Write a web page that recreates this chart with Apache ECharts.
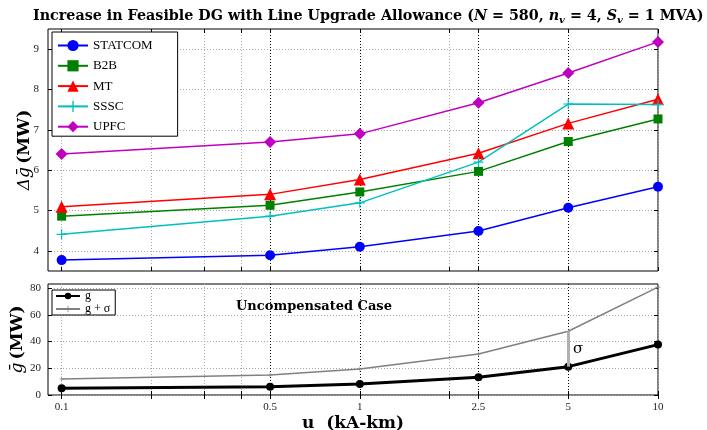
<!DOCTYPE html>
<html>
<head>
<meta charset="utf-8">
<script src="https://cdn.jsdelivr.net/npm/echarts@6/dist/echarts.min.js"></script>
<style>
html, body { margin: 0; padding: 0; background: #fff; }
#main { width: 707px; height: 430px; }
</style>
</head>
<body>
<div id="main"></div>
<script>
// line upgrade allowance u (kA-km)
var u = [0.1, 0.5, 1, 2.5, 5, 10];

// increase in feasible DG (MW), top panel
var statcom = [3.77, 3.89, 4.10, 4.49, 5.07, 5.59];
var b2b = [4.86, 5.13, 5.46, 5.97, 6.71, 7.27];
var mt = [5.09, 5.40, 5.77, 6.42, 7.16, 7.76];
var sssc = [4.41, 4.86, 5.19, 6.20, 7.64, 7.63];
var upfc = [6.40, 6.70, 6.90, 7.67, 8.41, 9.18];

// uncompensated case, bottom panel
var gMean = [5.0, 6.2, 8.2, 13.2, 21.2, 37.7];
var gSigma = [12.0, 15.0, 19.5, 30.7, 47.7, 80.7];

// ticks
var uTicks = [0.1, 0.2, 0.3, 0.4, 0.5, 1, 2, 2.5, 5, 10];
var uLabels = [0.1, 0.5, 1, 2.5, 5, 10];
var topTicks = [4, 5, 6, 7, 8, 9];
var botTicks = [0, 20, 40, 60, 80];

var serif = '"Liberation Serif", "DejaVu Serif", serif';
var wide = '"DejaVu Serif", serif';
var gray = '#aaaaaa';
// darker dotted lines at the labelled u values
var vGridColors = uTicks.map(function (v) {
    return (v === 0.5 || v === 1 || v === 2.5 || v === 5) ? '#000' : gray;
});
var plus = 'path://M-0.12,-1 L0.12,-1 L0.12,-0.12 L1,-0.12 L1,0.12 L0.12,0.12 L0.12,1 L-0.12,1 L-0.12,0.12 L-1,0.12 L-1,-0.12 L-0.12,-0.12 Z';

function pts(ys) {
    return u.map(function (x, i) { return [x, ys[i]]; });
}

function xAx(grid, pos, labels, split) {
    return {
        type: 'log', gridIndex: grid, position: pos, min: 0.09, max: 10,
        axisLine: { show: false },
        axisTick: { show: true, inside: true, length: 4, customValues: uTicks, lineStyle: { color: '#000' } },
        axisLabel: labels ? {
            show: true, customValues: uLabels, margin: 7,
            fontFamily: serif, fontSize: 11, color: '#222',
            formatter: function (v) { return String(+(+v).toFixed(2)); }
        } : { show: false },
        splitLine: { show: split, lineStyle: { type: [1, 2], color: vGridColors, width: 1 } },
        minorTick: { show: false }, minorSplitLine: { show: false }
    };
}

function yAx(grid, pos, min, max, ticks, split, margin) {
    return {
        type: 'value', gridIndex: grid, position: pos, min: min, max: max,
        axisLine: { show: false },
        axisTick: { show: true, inside: true, length: 4, customValues: ticks, lineStyle: { color: '#000' } },
        axisLabel: pos === 'left' ? {
            show: true, customValues: ticks, margin: margin,
            fontFamily: serif, fontSize: 11, color: '#222'
        } : { show: false },
        splitLine: { show: split, lineStyle: { type: [1, 2], color: gray, width: 1 } }
    };
}

var xAxes = [
    xAx(0, 'bottom', false, true),
    xAx(0, 'top', false, false),
    xAx(1, 'bottom', true, true),
    xAx(1, 'top', false, false)
];
xAxes[2].name = 'u  (kA-km)';
xAxes[2].nameLocation = 'middle';
xAxes[2].nameGap = 20;
xAxes[2].nameTextStyle = { fontFamily: wide, fontWeight: 'bold', fontSize: 17, color: '#000' };

var yAxes = [
    yAx(0, 'left', 3.5, 9.5, topTicks, true, 9),
    yAx(0, 'right', 3.5, 9.5, topTicks, false, 0),
    yAx(1, 'left', 0, 83, botTicks, true, 7),
    yAx(1, 'right', 0, 83, botTicks, false, 0)
];
var yNameRich = {
    i: { fontFamily: wide, fontStyle: 'italic', fontSize: 17, color: '#000' },
    b: { fontFamily: wide, fontWeight: 'bold', fontSize: 17, color: '#000' }
};
yAxes[0].name = '{i|Δḡ} {b|(MW)}';
yAxes[2].name = '{i|ḡ} {b|(MW)}';
yAxes[0].nameGap = 15;
yAxes[2].nameGap = 22;
[0, 2].forEach(function (k) {
    yAxes[k].nameLocation = 'middle';
    yAxes[k].nameRotate = 90;
    yAxes[k].nameMoveOverlap = false;
    yAxes[k].nameTextStyle = { rich: yNameRich };
});

function topLine(name, ys, color, symbol, size) {
    return {
        name: name, type: 'line', xAxisIndex: 0, yAxisIndex: 0,
        data: pts(ys), symbol: symbol, symbolSize: size,
        lineStyle: { color: color, width: 1.5 },
        itemStyle: { color: color }
    };
}

var option = {
    animation: false,
    backgroundColor: '#fff',
    title: {
        left: 28, top: 2,
        text: '{b|Increase in Feasible DG with Line Upgrade Allowance (}{i|N}{n| = 580, }{i|n}{s|v}{n| = 4, }{i|S}{s|v}{n| = 1 }{b|MVA)}',
        textStyle: {
            rich: {
                b: { fontFamily: wide, fontWeight: 'bold', fontSize: 14.3, color: '#000' },
                i: { fontFamily: wide, fontStyle: 'italic', fontSize: 14.3, color: '#000' },
                n: { fontFamily: wide, fontSize: 14.3, color: '#000' },
                s: { fontFamily: wide, fontStyle: 'italic', fontSize: 10, color: '#000', padding: [8, 0, 0, 0] }
            }
        }
    },
    grid: [
        { left: 48, right: 49, top: 29, height: 242, outerBoundsMode: 'none', show: true, borderColor: '#000', borderWidth: 1, backgroundColor: 'transparent' },
        { left: 48, right: 49, top: 284, height: 111, outerBoundsMode: 'none', show: true, borderColor: '#000', borderWidth: 1, backgroundColor: 'transparent' }
    ],
    legend: [
        {
            data: ['STATCOM', 'B2B', 'MT', 'SSSC', 'UPFC'],
            orient: 'vertical', left: 52, top: 32,
            padding: [7, 25, 3, 5], itemWidth: 30, itemHeight: 14, itemGap: 7.3,
            backgroundColor: '#fff', borderColor: '#000', borderWidth: 1, borderRadius: 0,
            textStyle: { fontFamily: serif, fontSize: 13, color: '#000' }
        },
        {
            data: ['g', 'g + σ'],
            orient: 'vertical', left: 52, top: 290,
            padding: [0, 5, 0, 3], itemWidth: 24, itemHeight: 8, itemGap: 1,
            backgroundColor: '#fff', borderColor: '#000', borderWidth: 1, borderRadius: 0,
            textStyle: { fontFamily: serif, fontSize: 12, lineHeight: 11, color: '#000' }
        }
    ],
    xAxis: xAxes,
    yAxis: yAxes,
    graphic: [{
        type: 'text', left: 236, top: 300,
        style: { text: 'Uncompensated Case', font: 'bold 13px "DejaVu Serif"', fill: '#000' }
    }],
    series: [
        topLine('STATCOM', statcom, '#0000ff', 'circle', 10),
        topLine('B2B', b2b, '#008000', 'rect', 9),
        topLine('MT', mt, '#ff0000', 'triangle', 12),
        topLine('SSSC', sssc, '#00bfbf', plus, 10),
        topLine('UPFC', upfc, '#bf00bf', 'diamond', 12),
        {
            name: 'g', type: 'line', xAxisIndex: 2, yAxisIndex: 2, z: 3,
            data: pts(gMean), symbol: 'circle', symbolSize: 8,
            lineStyle: { color: '#000', width: 3 },
            itemStyle: { color: '#000' }
        },
        {
            name: 'g + σ', type: 'line', xAxisIndex: 2, yAxisIndex: 2, z: 2,
            data: pts(gSigma), symbol: plus, symbolSize: 5,
            lineStyle: { color: '#808080', width: 1.5 },
            itemStyle: { color: '#808080' },
            markLine: {
                silent: true, symbol: ['none', 'none'],
                label: { show: false },
                lineStyle: { color: '#b0b0b0', width: 3, type: 'solid' },
                data: [[{ coord: [u[4], gMean[4]] }, { coord: [u[4], gSigma[4]] }]]
            },
            markPoint: {
                silent: true, symbolSize: 0,
                label: { show: true, formatter: 'σ', offset: [10, 0], fontFamily: wide, fontSize: 15, color: '#000' },
                data: [{ coord: [u[4], (gMean[4] + gSigma[4]) / 2] }]
            }
        }
    ]
};

var myChart = echarts.init(document.getElementById('main'));
myChart.setOption(option, true);
</script>
</body>
</html>
